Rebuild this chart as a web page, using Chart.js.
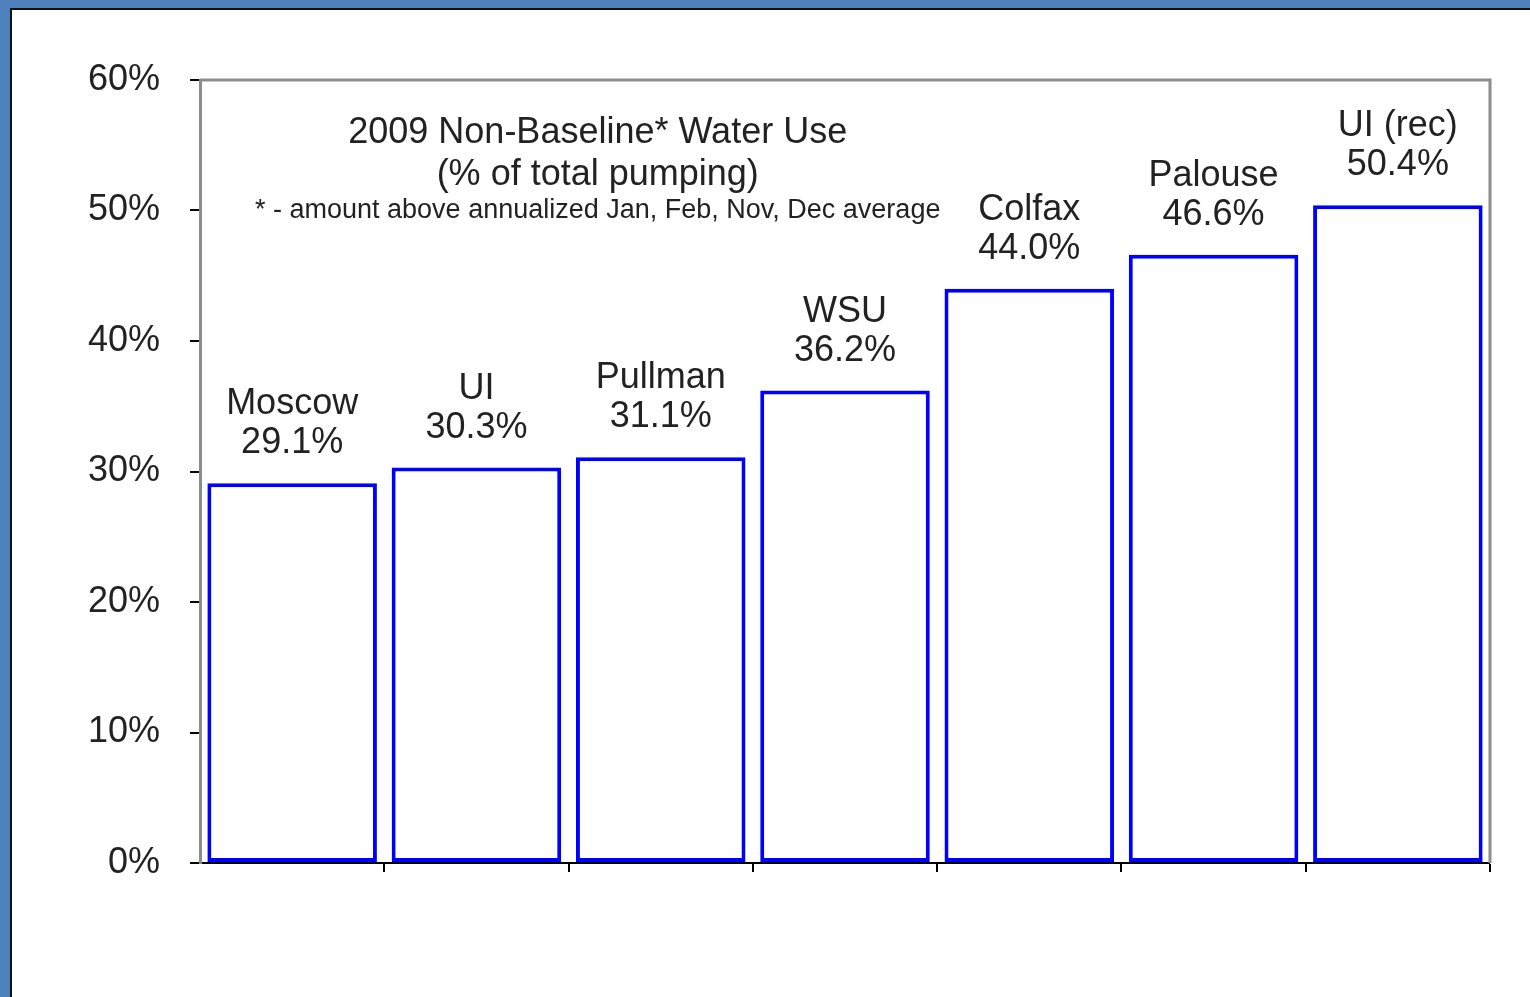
<!DOCTYPE html>
<html>
<head>
<meta charset="utf-8">
<script src="https://cdn.jsdelivr.net/npm/chart.js@4/dist/chart.umd.min.js"></script>
<style>
  html, body { margin: 0; padding: 0; width: 1530px; height: 997px; overflow: hidden; background: #4F81BD; }
  #frame { position: absolute; left: 10px; top: 8px; width: 1520px; height: 989px; background: #ffffff; border-left: 2px solid #111; border-top: 2px solid #111; box-sizing: border-box; }
  #c { position: absolute; left: 0; top: 0; }
</style>
</head>
<body>
<div id="frame"></div>
<canvas id="c" width="1530" height="997"></canvas>
<script>
const categories = ['Moscow', 'UI', 'Pullman', 'WSU', 'Colfax', 'Palouse', 'UI (rec)'];
const values = [29.1, 30.3, 31.1, 36.2, 44.0, 46.6, 50.4];
const yTicks = [0, 10, 20, 30, 40, 50, 60];
const titleLines = ['2009 Non-Baseline* Water Use', '(% of total pumping)'];
const footnote = '* - amount above annualized Jan, Feb, Nov, Dec average';

const FONT = '"Liberation Sans", Arial, sans-serif';
const TEXT = '#222222';

const decorPlugin = {
  id: 'decor',
  beforeDatasetsDraw(chart) {
    const a = chart.chartArea, ctx = chart.ctx;
    ctx.save();
    ctx.strokeStyle = '#8c8c8c';
    ctx.lineWidth = 3;
    ctx.beginPath();
    ctx.moveTo(a.left, a.top);
    ctx.lineTo(a.right, a.top);
    ctx.lineTo(a.right, a.bottom);
    ctx.stroke();
    ctx.restore();
  },
  afterDatasetsDraw(chart) {
    const ctx = chart.ctx, a = chart.chartArea;
    const meta = chart.getDatasetMeta(0);
    ctx.save();
    ctx.fillStyle = TEXT;
    ctx.textAlign = 'center';
    ctx.textBaseline = 'middle';
    ctx.font = '36px ' + FONT;
    meta.data.forEach((el, i) => {
      ctx.fillText(categories[i], el.x, el.y - 79);
      ctx.fillText(values[i].toFixed(1) + '%', el.x, el.y - 40);
    });
    // in-plot title
    const cx = a.left + (a.right - a.left) * 0.3083;
    ctx.font = '36px ' + FONT;
    ctx.fillText(titleLines[0], cx, a.top + 53);
    ctx.fillText(titleLines[1], cx, a.top + 95);
    ctx.font = '27px ' + FONT;
    ctx.fillText(footnote, cx, a.top + 131);
    ctx.restore();
  }
};

new Chart(document.getElementById('c'), {
  type: 'bar',
  data: {
    labels: categories,
    datasets: [{
      data: values,
      backgroundColor: '#ffffff',
      borderColor: '#0000ff',
      borderWidth: 4,
      borderSkipped: false,
      barPercentage: 0.92,
      categoryPercentage: 1.0
    }]
  },
  options: {
    responsive: false,
    animation: false,
    devicePixelRatio: 1,
    layout: { padding: { left: 0, right: 40, top: 80, bottom: 114 } },
    plugins: { legend: { display: false }, tooltip: { enabled: false }, title: { display: false } },
    scales: {
      x: {
        type: 'category',
        grid: {
          display: true, drawOnChartArea: false, drawTicks: true, tickLength: 9, offset: true,
          color: '#000000',
          lineWidth: (c) => (c.index === 0 ? 0 : 2)
        },
        border: { display: true, color: '#000000', width: 2 },
        ticks: { display: false },
        afterFit(scale) { scale.height = 20; }
      },
      y: {
        min: 0, max: 60,
        afterBuildTicks(scale) { scale.ticks = yTicks.map(v => ({ value: v })); },
        grid: { display: true, drawOnChartArea: false, drawTicks: true, tickLength: 10, color: '#000000', lineWidth: 2 },
        border: { display: true, color: '#8c8c8c', width: 3 },
        ticks: {
          padding: 30,
          color: TEXT,
          font: { family: FONT, size: 36 },
          callback: (v) => v + '%'
        },
        afterFit(scale) { scale.width = 200; }
      }
    }
  },
  plugins: [decorPlugin]
});
</script>
</body>
</html>
